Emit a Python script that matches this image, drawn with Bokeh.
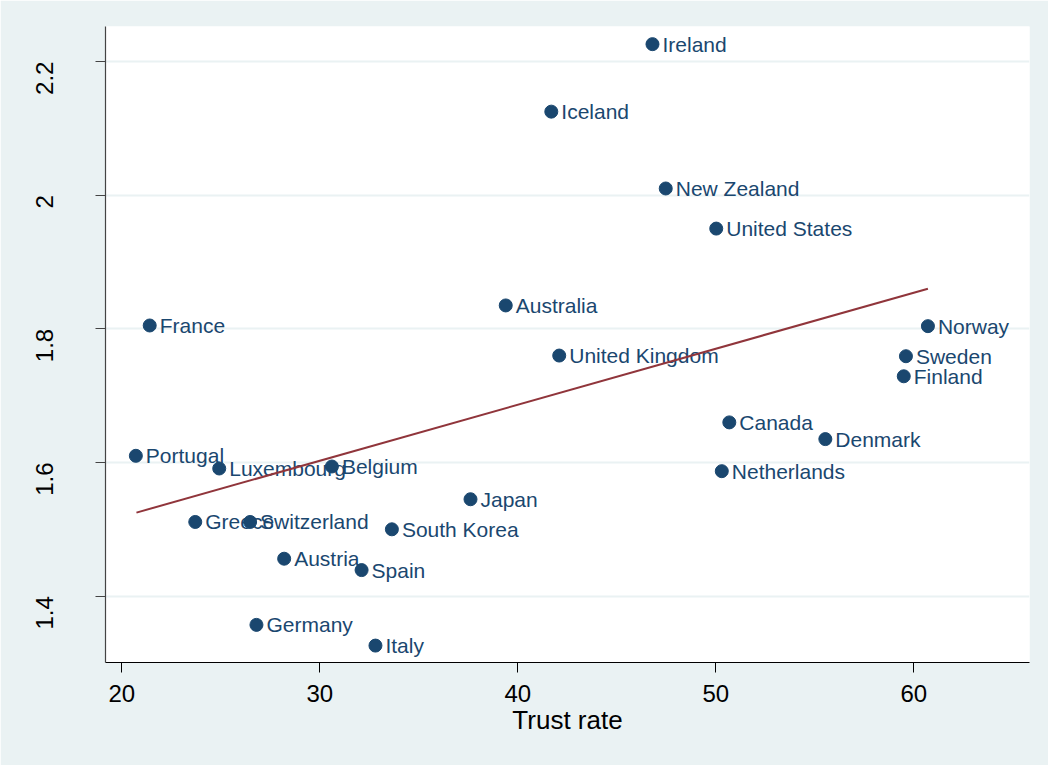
import math
from bokeh.plotting import figure
from bokeh.models import Range1d, FixedTicker, ColumnDataSource
from bokeh.core.properties import value
from bokeh.embed import file_html
from bokeh.resources import INLINE

countries = ["Ireland", "Iceland", "New Zealand", "United States", "Australia",
             "France", "United Kingdom", "Norway", "Sweden", "Finland",
             "Canada", "Denmark", "Netherlands", "Portugal", "Luxembourg",
             "Belgium", "Japan", "Greece", "Switzerland", "South Korea",
             "Austria", "Spain", "Germany", "Italy"]
trust = [46.80, 41.69, 47.47, 50.02, 39.39,
         21.41, 42.09, 60.71, 59.60, 59.49,
         50.68, 55.53, 50.30, 20.71, 24.92,
         30.61, 37.61, 23.71, 26.48, 33.64,
         28.20, 32.11, 26.80, 32.81]
yval = [2.226, 2.125, 2.010, 1.950, 1.835,
        1.805, 1.760, 1.804, 1.759, 1.729,
        1.660, 1.635, 1.587, 1.610, 1.591,
        1.594, 1.545, 1.511, 1.511, 1.500,
        1.456, 1.439, 1.357, 1.326]

fit_x = [20.74, 60.71]
fit_y = [1.525, 1.860]

x_ticks = [20, 30, 40, 50, 60]
y_ticks = [1.4, 1.6, 1.8, 2.0, 2.2]
y_tick_labels = ["1.4", "1.6", "1.8", "2", "2.2"]

FONT = "Liberation Sans"
NAVY = "#1A476F"
MAROON = "#90353B"
BG = "#EAF2F3"

p = figure(width=1048, height=765, output_backend="svg", toolbar_location=None,
           x_range=Range1d(19.177, 65.84), y_range=Range1d(1.3007, 2.2524),
           min_border_left=105, min_border_right=19, min_border_top=26,
           min_border_bottom=103)
p.border_fill_color = BG
p.background_fill_color = "white"
p.outline_line_color = None

src = ColumnDataSource(dict(x=trust, y=yval, name=countries))
p.scatter("x", "y", source=src, size=13, color=NAVY, line_color=NAVY)
p.text("x", "y", text="name", source=src, x_offset=10, text_align="left",
       text_baseline="middle", text_font=value(FONT), text_font_size="21px",
       text_color=NAVY)
p.line(fit_x, fit_y, line_color=MAROON, line_width=2)

# grid
p.xgrid.grid_line_color = None
p.ygrid.grid_line_color = BG
p.ygrid.grid_line_width = 2
p.ygrid.ticker = FixedTicker(ticks=y_ticks)

# x axis
xa = p.xaxis[0]
xa.ticker = FixedTicker(ticks=x_ticks)
xa.axis_label = "Trust rate"
xa.axis_label_text_font = FONT
xa.axis_label_text_font_size = "26px"
xa.axis_label_text_font_style = "normal"
xa.axis_label_text_color = "black"
xa.axis_label_standoff = 0
xa.major_label_text_font = FONT
xa.major_label_text_font_size = "24px"
xa.major_label_text_color = "black"
xa.major_label_standoff = 12
xa.axis_line_color = "black"
xa.axis_line_width = 1.2
xa.major_tick_line_color = "black"
xa.major_tick_out = 10
xa.major_tick_in = 0
xa.minor_tick_line_color = None

# y axis
ya = p.yaxis[0]
ya.ticker = FixedTicker(ticks=y_ticks)
ya.major_label_overrides = {t: l for t, l in zip(y_ticks, y_tick_labels)}
ya.major_label_orientation = math.pi / 2
ya.major_label_text_font = FONT
ya.major_label_text_font_size = "24px"
ya.major_label_text_color = "black"
ya.major_label_standoff = 51
ya.axis_line_color = "#444444"
ya.axis_line_width = 1.2
ya.major_tick_line_color = "#444444"
ya.major_tick_out = 10
ya.major_tick_in = 0
ya.minor_tick_line_color = None

open("out.html", "w").write(file_html(p, INLINE))
